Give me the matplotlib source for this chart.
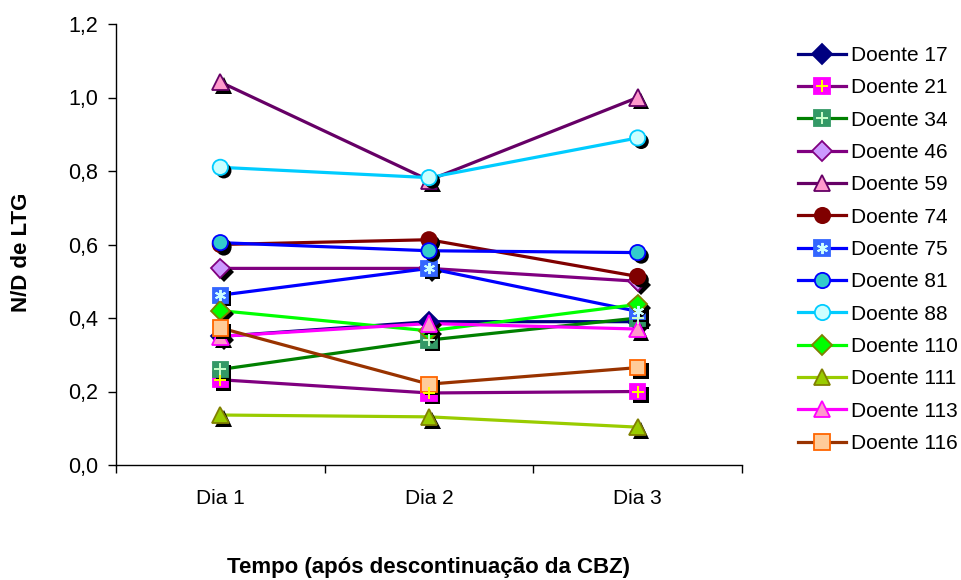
import matplotlib
matplotlib.use("Agg")
import matplotlib.pyplot as plt
import matplotlib.patheffects as pe
from matplotlib.lines import Line2D
from matplotlib.legend_handler import HandlerTuple

plt.rcParams['font.family'] = ['Liberation Sans', 'DejaVu Sans']

days = ["Dia 1", "Dia 2", "Dia 3"]
patients = ["Doente 17", "Doente 21", "Doente 34", "Doente 46", "Doente 59",
            "Doente 74", "Doente 75", "Doente 81", "Doente 88", "Doente 110",
            "Doente 111", "Doente 113", "Doente 116"]
d17 = [0.35, 0.39, 0.39]
d21 = [0.232, 0.196, 0.200]
d34 = [0.260, 0.340, 0.400]
d46 = [0.535, 0.535, 0.500]
d59 = [1.042, 0.775, 1.000]
d74 = [0.600, 0.613, 0.513]
d75 = [0.462, 0.535, 0.418]
d81 = [0.605, 0.583, 0.578]
d88 = [0.810, 0.782, 0.890]
d110 = [0.420, 0.365, 0.437]
d111 = [0.136, 0.131, 0.103]
d113 = [0.350, 0.385, 0.370]
d116 = [0.373, 0.220, 0.265]
yticks = [0.0, 0.2, 0.4, 0.6, 0.8, 1.0, 1.2]
ytick_labels = ["0,0", "0,2", "0,4", "0,6", "0,8", "1,0", "1,2"]

series = [d17, d21, d34, d46, d59, d74, d75, d81, d88, d110, d111, d113, d116]
# (line colour, marker, face, edge, overlay marker, overlay colour)
styles = [
    ("#000080", "D", "#000080", "#000080", None, None),
    ("#800080", "s", "#FF00FF", "#FF00FF", "+", "#FFFF00"),
    ("#008000", "s", "#339966", "#339966", "+", "#CCFFCC"),
    ("#800080", "D", "#CC99FF", "#800080", None, None),
    ("#660066", "^", "#FF99CC", "#660066", None, None),
    ("#800000", "o", "#800000", "#800000", None, None),
    ("#0000FF", "s", "#3366FF", "#3366FF", (6, 2, 0), "#CCFFFF"),
    ("#0000FF", "o", "#33CCCC", "#0000FF", None, None),
    ("#00CCFF", "o", "#CCFFFF", "#00CCFF", None, None),
    ("#00FF00", "D", "#00FF00", "#808000", None, None),
    ("#99CC00", "^", "#99CC00", "#808000", None, None),
    ("#FF00FF", "^", "#FF99CC", "#FF00FF", None, None),
    ("#993300", "s", "#FFCC99", "#FF6600", None, None),
]
sizes = {"D": 10, "s": 11, "o": 11, "^": 12}

fig = plt.figure(figsize=(9.62, 5.8), dpi=100)
ax = fig.add_axes([116/962, 1-465/580, (742-116)/962, (465-24)/580])

x = [1, 2, 3]
shadow = [pe.SimplePatchShadow(offset=(2.5, -2.5), shadow_rgbFace='black', alpha=1.0), pe.Normal()]
handles = []
for vals, (lc, mk, fc, ec, ov, oc), name in zip(series, styles, patients):
    msz = sizes[mk]
    ax.plot(x, vals, color=lc, lw=2.3, zorder=2)
    ax.plot(x, vals, ls='none', marker=mk, ms=msz, mfc=fc, mec=ec, mew=1.3,
            zorder=3, path_effects=shadow)
    h_line = Line2D([], [], color=lc, lw=2.3, marker=mk, ms=msz, mfc=fc, mec=ec, mew=1.3)
    if ov is not None:
        ax.plot(x, vals, ls='none', marker=ov, ms=8, mec=oc, mew=1.4, zorder=4)
        h_ov = Line2D([], [], ls='none', marker=ov, ms=8, mec=oc, mew=1.4)
        handles.append((h_line, h_ov))
    else:
        handles.append(h_line)

ax.set_xlim(0.5, 3.5)
ax.set_ylim(0, 1.2)
ax.set_xticks(x)
ax.set_xticklabels(days, fontsize=15)
ax.set_xticks([0.5, 1.5, 2.5, 3.5], minor=True)
ax.tick_params(axis='x', which='major', length=0, pad=17)
ax.tick_params(axis='x', which='minor', length=6, width=1, direction='out')
ax.set_yticks(yticks)
ax.set_yticklabels(ytick_labels, fontsize=15.5)
ax.tick_params(axis='y', length=6, width=1, direction='out', pad=7)
for s in ("top", "right"):
    ax.spines[s].set_visible(False)
for s in ("left", "bottom"):
    ax.spines[s].set_linewidth(1.0)
    ax.spines[s].set_color("black")

fig.text(22/962, 1-252/580, "N/D de LTG", rotation=90, fontsize=16,
         fontweight='bold', ha='center', va='center')
fig.text(429/962, 1-568/580, "Tempo (após descontinuação da CBZ)", fontsize=16,
         fontweight='bold', ha='center', va='center')

leg = fig.legend(handles, patients, loc='upper left', bbox_to_anchor=(798/962, 1-46/580),
                 frameon=False, fontsize=15, handlelength=2.3, handletextpad=0.25,
                 labelspacing=0.64, borderaxespad=0, borderpad=0,
                 handler_map={tuple: HandlerTuple(ndivide=1, pad=0)})

fig.savefig("out.png", dpi=100)
